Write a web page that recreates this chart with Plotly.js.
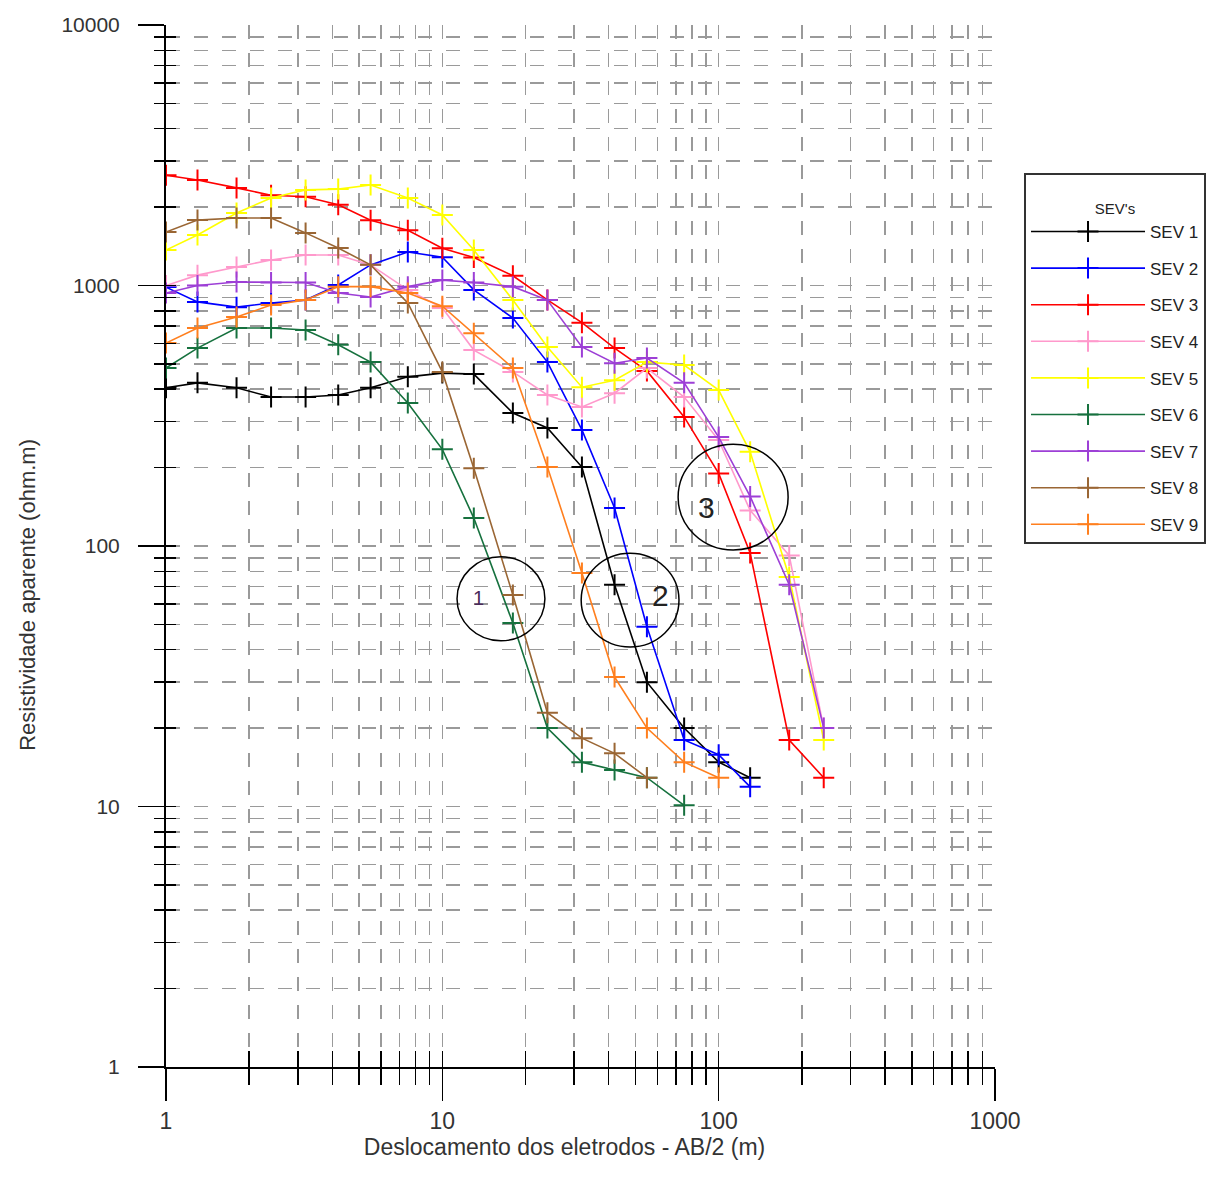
<!DOCTYPE html>
<html>
<head>
<meta charset="utf-8">
<script src="https://cdn.plot.ly/plotly-3.0.1.min.js"></script>
<style>html,body{margin:0;padding:0;background:#fff;}#chart{width:1219px;height:1185px;}</style>
</head>
<body>
<div id="chart"></div>
<script>
// AB/2 spacing (m)
const xAB = [1, 1.3, 1.8, 2.4, 3.2, 4.2, 5.5, 7.5, 10, 13, 18, 24, 32, 42, 55, 75, 100, 130, 180, 240];

// Apparent resistivity (ohm.m) per sounding
const sev1 = [405, 423, 405, 373, 373, 380, 405, 446, 461, 457, 324, 284, 201, 71, 30, 20, 14.8, 12.9];
const sev2 = [986, 865, 826, 857, 879, 1004, 1200, 1345, 1285, 962, 750, 508, 279, 140, 49, 18, 15.8, 11.9];
const sev3 = [2650, 2540, 2370, 2220, 2190, 2040, 1780, 1630, 1390, 1280, 1090, 880, 720, 575, 470, 313, 190, 94, 18, 12.9];
const sev4 = [1000, 1096, 1178, 1253, 1310, 1310, 1200, 962, 820, 565, 466, 380, 342, 386, 482, 373, 255, 137, 92, 20];
const sev5 = [1368, 1563, 1897, 2168, 2328, 2345, 2432, 2168, 1866, 1368, 879, 581, 407, 433, 508, 495, 397, 230, 76, 18];
const sev6 = [482, 575, 687, 687, 675, 592, 508, 354, 235, 128, 50.6, 20, 14.8, 13.8, 12.9, 10.1];
const sev7 = [936, 1000, 1031, 1027, 1027, 936, 904, 990, 1049, 1027, 990, 879, 581, 503, 527, 423, 262, 155, 71, 20];
const sev8 = [1603, 1783, 1815, 1815, 1592, 1393, 1200, 857, 466, 199, 64.9, 22.9, 18.3, 16, 12.9];
const sev9 = [601, 687, 757, 841, 879, 990, 990, 936, 833, 655, 482, 201, 78.7, 31.4, 20, 14.8, 12.9];

const seriesNames = ['SEV 1', 'SEV 2', 'SEV 3', 'SEV 4', 'SEV 5', 'SEV 6', 'SEV 7', 'SEV 8', 'SEV 9'];
const seriesValues = [sev1, sev2, sev3, sev4, sev5, sev6, sev7, sev8, sev9];
const seriesColors = ['#000000', '#0000ff', '#ff0000', '#ff99cc', '#ffff00', '#16713e', '#9d3fd6', '#9a6634', '#ff7f1e'];

// Highlighted zones: label, centre (AB/2, rho), radius in decades (x, y)
const zoneLabels = ['1', '2', '3'];
const zoneCx = [16.3, 47.8, 112.8];
const zoneCy = [62.7, 62, 154];
const zoneRx = [0.159, 0.177, 0.199];
const zoneRy = [0.161, 0.180, 0.203];
const zoneLabelX = [13.5, 61.4, 90];
const zoneLabelY = [63, 64.3, 140];

const traces = seriesValues.map((vals, i) => ({
  type: 'scatter',
  mode: 'lines+markers',
  name: seriesNames[i],
  legendgroup: seriesNames[i],
  x: xAB.slice(0, vals.length),
  y: vals,
  line: {color: seriesColors[i], width: 1.6},
  marker: {symbol: 'cross-thin', size: 15, line: {color: seriesColors[i], width: 2}}
}));
// empty helper trace so the overlay axes (inner tick halves) get drawn
traces.push({type: 'scatter', mode: 'lines', x: [], y: [], xaxis: 'x2', yaxis: 'y2', showlegend: false, hoverinfo: 'skip'});

const gridColor = '#9a9a9a';
const LOG = Math.log10;

const shapes = zoneCx.map((cx, i) => ({
  type: 'circle', xref: 'x', yref: 'y',
  x0: cx / Math.pow(10, zoneRx[i]), x1: cx * Math.pow(10, zoneRx[i]),
  y0: zoneCy[i] / Math.pow(10, zoneRy[i]), y1: zoneCy[i] * Math.pow(10, zoneRy[i]),
  line: {color: '#000', width: 1.5}
}));

const annotations = zoneLabels.map((t, i) => ({
  x: LOG(zoneLabelX[i]), y: LOG(zoneLabelY[i]), xref: 'x', yref: 'y',
  text: t, showarrow: false,
  font: {family: 'Liberation Sans Narrow, Liberation Sans, Arial', size: i === 0 ? 20 : 30, color: i === 0 ? '#4a2a5a' : '#222'}
}));

const narrow = 'Liberation Sans Narrow, Liberation Sans, Arial, sans-serif';
const pad = n => '&nbsp;'.repeat(n);

const layout = {
  width: 1219, height: 1185,
  margin: {l: 166, r: 224, t: 25, b: 118},
  paper_bgcolor: '#fff', plot_bgcolor: '#fff',
  showlegend: true,
  legend: {
    x: 1.035, y: 0.858, xanchor: 'left', yanchor: 'top',
    bgcolor: '#fff', bordercolor: '#333', borderwidth: 2,
    title: {text: "&nbsp;<br>SEV's", side: 'top center', font: {family: narrow, size: 15, color: '#222'}},
    font: {family: narrow, size: 17, color: '#222'},
    tracegroupgap: 11.5,
    itemwidth: 114
  },
  xaxis: {
    type: 'log', range: [0, 3],
    tickvals: [1, 10, 100, 1000], ticktext: ['1', '10', '100', '1000'],
    ticks: 'outside', ticklen: 32, tickwidth: 1.5, tickcolor: '#000',
    showline: true, linecolor: '#000', linewidth: 2,
    showgrid: true, gridcolor: gridColor, gridwidth: 1.5, griddash: '14px,14px',
    zeroline: false,
    tickfont: {family: narrow, size: 23, color: '#333'},
    minor: {dtick: 'D1', ticks: 'outside', ticklen: 16, tickwidth: 1.5, tickcolor: '#000',
            showgrid: true, gridcolor: gridColor, gridwidth: 1.5, griddash: '14px,14px'},
    title: {text: 'Deslocamento dos eletrodos - AB/2 (m)' + pad(5), standoff: 6,
            font: {family: narrow, size: 23, color: '#333'}}
  },
  yaxis: {
    type: 'log', range: [0, 4],
    tickvals: [1, 10, 100, 1000, 10000], ticktext: ['1', '10', '100', '1000', '10000'],
    ticks: 'outside', ticklen: 26, tickwidth: 1.5, tickcolor: '#000',
    showline: true, linecolor: '#000', linewidth: 2,
    showgrid: true, gridcolor: gridColor, gridwidth: 1.5, griddash: '14px,14px',
    zeroline: false,
    tickfont: {family: 'Liberation Sans, Arial, sans-serif', size: 21, color: '#333'},
    ticklabelstandoff: 14,
    minor: {dtick: 'D1', ticks: 'outside', ticklen: 10, tickwidth: 1.5, tickcolor: '#000',
            showgrid: true, gridcolor: gridColor, gridwidth: 1.5, griddash: '14px,14px'},
    title: {text: 'Resistividade aparente (ohm.m)' + pad(16), standoff: 20,
            font: {family: 'Liberation Sans, Arial, sans-serif', size: 22, color: '#333'}}
  },
  xaxis2: {
    type: 'log', range: [0, 3], overlaying: 'x', anchor: 'y2', side: 'bottom',
    showticklabels: false, showgrid: false, zeroline: false, showline: false, automargin: false,
    dtick: 'D1', ticks: 'inside', ticklen: 16, tickwidth: 1.5, tickcolor: '#000'
  },
  yaxis2: {
    type: 'log', range: [0, 4], overlaying: 'y', anchor: 'x2', side: 'left',
    showticklabels: false, showgrid: false, zeroline: false, showline: false, automargin: false,
    dtick: 'D1', ticks: 'inside', ticklen: 10, tickwidth: 1.5, tickcolor: '#000'
  },
  shapes: shapes,
  annotations: annotations
};

Plotly.newPlot('chart', traces, layout, {displayModeBar: false, staticPlot: true});
</script>
</body>
</html>
